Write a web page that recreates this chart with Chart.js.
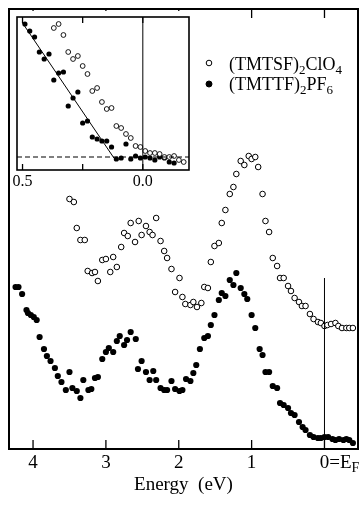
<!DOCTYPE html>
<html>
<head>
<meta charset="utf-8">
<script src="https://cdn.jsdelivr.net/npm/chart.js@4.4.1/dist/chart.umd.min.js"></script>
<style>
  body { margin: 0; background: #fff; }
  #wrap { position: relative; width: 363px; height: 508px; }
  #main, #inset { position: absolute; left: 0; top: 0; }
</style>
</head>
<body>
<div id="wrap">
  <canvas id="main" width="363" height="508"></canvas>
  <canvas id="inset" width="200" height="195"></canvas>
</div>
<script>
// main spectra, energy below E_F (eV) and intensity (arb. units)
const tmtsfEnergy = [3.50, 3.44, 3.40, 3.35, 3.29, 3.25, 3.19, 3.15, 3.11, 3.05, 3.00, 2.94, 2.90, 2.85, 2.79, 2.75, 2.70, 2.66, 2.60, 2.55, 2.51, 2.45, 2.40, 2.36, 2.31, 2.25, 2.20, 2.16, 2.10, 2.05, 1.99, 1.95, 1.91, 1.84, 1.80, 1.75, 1.69, 1.65, 1.60, 1.56, 1.51, 1.45, 1.41, 1.36, 1.30, 1.25, 1.21, 1.15, 1.10, 1.04, 1.00, 0.95, 0.91, 0.85, 0.81, 0.76, 0.71, 0.65, 0.61, 0.56, 0.50, 0.46, 0.41, 0.35, 0.31, 0.26, 0.20, 0.15, 0.09, 0.05, 0.00, -0.04, -0.09, -0.15, -0.19, -0.24, -0.30, -0.34, -0.39];
const tmtsfIntensity = [250, 247, 221, 209, 209, 178, 176, 177, 168, 189, 190, 177, 192, 182, 202, 216, 213, 226, 207, 228, 214, 223, 217, 214, 231, 208, 198, 191, 180, 157, 171, 152, 145, 144, 147, 142, 146, 162, 161, 187, 203, 206, 226, 239, 255, 262, 275, 288, 284, 293, 290, 292, 282, 255, 228, 217, 191, 183, 171, 171, 163, 158, 151, 147, 143, 143, 135, 130, 127, 126, 123, 124, 125, 126, 123, 121, 121, 121, 121];

const tmttfEnergy = [4.24, 4.20, 4.15, 4.09, 4.07, 4.03, 3.99, 3.95, 3.91, 3.85, 3.81, 3.76, 3.70, 3.66, 3.61, 3.55, 3.50, 3.46, 3.40, 3.35, 3.31, 3.24, 3.20, 3.15, 3.11, 3.05, 3.00, 2.96, 2.90, 2.85, 2.81, 2.75, 2.71, 2.66, 2.59, 2.56, 2.51, 2.45, 2.40, 2.35, 2.31, 2.25, 2.20, 2.16, 2.10, 2.05, 1.99, 1.95, 1.90, 1.84, 1.80, 1.76, 1.71, 1.65, 1.60, 1.56, 1.51, 1.45, 1.41, 1.36, 1.30, 1.25, 1.21, 1.15, 1.10, 1.06, 1.00, 0.95, 0.89, 0.85, 0.81, 0.76, 0.71, 0.65, 0.61, 0.56, 0.50, 0.46, 0.41, 0.35, 0.30, 0.26, 0.20, 0.15, 0.09, 0.05, 0.00, -0.05, -0.11, -0.15, -0.20, -0.26, -0.30, -0.34, -0.39];
const tmttfIntensity = [162, 162, 155, 139, 136, 134, 132, 129, 112, 100, 93, 88, 81, 73, 67, 59, 77, 61, 58, 51, 69, 59, 60, 71, 72, 90, 97, 101, 97, 108, 113, 104, 109, 117, 110, 80, 88, 77, 69, 78, 69, 61, 59, 59, 68, 60, 58, 59, 70, 68, 76, 84, 100, 111, 113, 124, 134, 149, 156, 153, 169, 164, 176, 161, 155, 150, 134, 121, 100, 94, 77, 77, 63, 61, 46, 44, 41, 36, 34, 27, 22, 19, 14, 12, 11, 11, 12, 12, 10, 9, 10, 9, 10, 9, 6];

// inset: close-up near E_F
const insetTmtsfEnergy = [0.37, 0.35, 0.33, 0.31, 0.29, 0.27, 0.25, 0.23, 0.21, 0.19, 0.17, 0.15, 0.13, 0.11, 0.09, 0.07, 0.05, 0.03, 0.01, -0.01, -0.03, -0.05, -0.07, -0.09, -0.11, -0.13, -0.15, -0.17];
const insetTmtsfIntensity = [142, 146, 135, 118, 111, 114, 104, 96, 79, 82, 68, 61, 62, 44, 42, 36, 32, 24, 23, 19, 17, 17, 16, 13, 13, 14, 10, 8];
const insetTmttfEnergy = [0.49, 0.47, 0.45, 0.43, 0.41, 0.39, 0.37, 0.35, 0.33, 0.31, 0.29, 0.27, 0.25, 0.23, 0.21, 0.19, 0.17, 0.15, 0.13, 0.11, 0.09, 0.07, 0.05, 0.03, 0.01, -0.01, -0.03, -0.05, -0.07, -0.09, -0.11, -0.13];
const insetTmttfIntensity = [146, 139, 133, 118, 111, 116, 90, 97, 98, 64, 72, 78, 47, 49, 33, 31, 29, 29, 23, 11, 12, 26, 11, 14, 12, 13, 12, 10, 13, 12, 8, 7];
const fitEnergy = [0.50, 0.12];
const fitIntensity = [147, 12];
const baselineIntensity = 13;

const mainTicks = [4, 3, 2, 1, 0];
const insetTicks = [0.5, 0.25, 0];
const insetTickLabels = ["0.5", "", "0.0"];
const fermiLineTop = 171;

const tmtsfLabel = [["(TMTSF)", false], ["2", true], ["ClO", false], ["4", true]];
const tmttfLabel = [["(TMTTF)", false], ["2", true], ["PF", false], ["6", true]];

const serif = '"Liberation Serif", "Times New Roman", serif';

function toPoints(xs, ys) {
    return xs.map((x, i) => ({ x: x, y: ys[i] }));
}

// text with subscripts, left aligned from x
function drawRich(ctx, x, y, parts, size) {
    ctx.textBaseline = "alphabetic";
    ctx.textAlign = "left";
    parts.forEach(([text, sub]) => {
        ctx.font = (sub ? Math.round(size * 0.72) : size) + "px " + serif;
        ctx.fillText(text, x, sub ? y + 4 : y);
        x += ctx.measureText(text).width;
    });
}

function drawMarker(ctx, x, y, filled) {
    ctx.beginPath();
    ctx.arc(x, y, filled ? 3 : 2.8, 0, Math.PI * 2);
    ctx.fillStyle = filled ? "#000" : "#fff";
    ctx.fill();
    ctx.lineWidth = 1;
    ctx.strokeStyle = "#000";
    ctx.stroke();
}

function drawFrameAndTicks(chart, tickValues, len, frameWidth) {
    const { ctx, chartArea } = chart;
    const xs = chart.scales.x;
    ctx.save();
    ctx.strokeStyle = "#000";
    ctx.lineWidth = 1.3;
    tickValues.forEach(v => {
        const px = xs.getPixelForValue(v);
        ctx.beginPath();
        ctx.moveTo(px, chartArea.bottom);
        ctx.lineTo(px, chartArea.bottom - len);
        ctx.moveTo(px, chartArea.top);
        ctx.lineTo(px, chartArea.top + len);
        ctx.stroke();
    });
    ctx.lineWidth = frameWidth;
    ctx.strokeRect(chartArea.left, chartArea.top, chartArea.right - chartArea.left, chartArea.bottom - chartArea.top);
    ctx.restore();
}

const mainDecor = {
    id: "mainDecor",
    afterDraw(chart) {
        const ctx = chart.ctx;
        const xs = chart.scales.x;
        drawFrameAndTicks(chart, mainTicks, 9, 2);

        // finish the "0=E_F" tick label
        ctx.save();
        ctx.fillStyle = "#000";
        ctx.font = "19px " + serif;
        const zeroX = xs.getPixelForValue(0) + ctx.measureText("0").width / 2;
        const y = xs.top + 3 + 19 * 1.2 / 2;
        ctx.textBaseline = "middle";
        ctx.textAlign = "left";
        ctx.fillText("=E", zeroX, y);
        const w = ctx.measureText("=E").width;
        ctx.font = "14px " + serif;
        ctx.fillText("F", zeroX + w, y + 5);

        // legend
        drawMarker(ctx, 209, 63, false);
        drawMarker(ctx, 209, 84, true);
        ctx.fillStyle = "#000";
        drawRich(ctx, 229, 70, tmtsfLabel, 18);
        drawRich(ctx, 229, 90, tmttfLabel, 18);
        ctx.restore();
    }
};

const insetDecor = {
    id: "insetDecor",
    beforeDraw(chart) {
        const { ctx, chartArea } = chart;
        ctx.save();
        ctx.fillStyle = "#fff";
        ctx.fillRect(chartArea.left - 6, chartArea.top - 6, chartArea.right - chartArea.left + 12, chartArea.bottom - chartArea.top + 8);
        ctx.restore();
    },
    afterDraw(chart) {
        drawFrameAndTicks(chart, insetTicks, 6, 1.6);
    }
};

new Chart("main", {
    type: "scatter",
    data: {
        datasets: [
            {
                data: [{ x: 0, y: 0 }, { x: 0, y: fermiLineTop }],
                showLine: true,
                borderColor: "#000",
                borderWidth: 1,
                pointRadius: 0
            },
            {
                label: "(TMTSF)2ClO4",
                data: toPoints(tmtsfEnergy, tmtsfIntensity),
                pointStyle: "circle",
                pointRadius: 2.8,
                backgroundColor: "#fff",
                borderColor: "#000",
                borderWidth: 1
            },
            {
                label: "(TMTTF)2PF6",
                data: toPoints(tmttfEnergy, tmttfIntensity),
                pointStyle: "circle",
                pointRadius: 3.1,
                backgroundColor: "#000",
                borderColor: "#000",
                borderWidth: 0
            }
        ]
    },
    options: {
        responsive: false,
        animation: false,
        events: [],
        layout: { padding: { left: 9, top: 9, right: 1, bottom: 0 } },
        plugins: { legend: { display: false }, tooltip: { enabled: false } },
        scales: {
            x: {
                type: "linear",
                reverse: true,
                min: -0.46,
                max: 4.33,
                afterBuildTicks: s => { s.ticks = mainTicks.map(v => ({ value: v })); },
                afterFit: s => { s.height = 59; },
                grid: { display: false, drawTicks: false },
                border: { display: false },
                ticks: {
                    autoSkip: false,
                    maxRotation: 0,
                    padding: 3,
                    color: "#000",
                    font: { family: serif, size: 19 },
                    callback: v => String(v)
                },
                title: {
                    display: true,
                    text: "Energy  (eV)",
                    color: "#000",
                    font: { family: serif, size: 19 },
                    padding: { top: 0, bottom: 12 }
                }
            },
            y: { display: false, min: 0, max: 440 }
        }
    },
    plugins: [mainDecor]
});

new Chart("inset", {
    type: "scatter",
    data: {
        datasets: [
            {
                data: [{ x: 0, y: 0 }, { x: 0, y: 153 }],
                showLine: true,
                borderColor: "#000",
                borderWidth: 1,
                pointRadius: 0
            },
            {
                data: [{ x: 0.523, y: baselineIntensity }, { x: -0.192, y: baselineIntensity }],
                showLine: true,
                borderColor: "#000",
                borderWidth: 1.2,
                borderDash: [5, 3],
                pointRadius: 0
            },
            {
                data: toPoints(fitEnergy, fitIntensity),
                showLine: true,
                borderColor: "#000",
                borderWidth: 1,
                pointRadius: 0
            },
            {
                data: toPoints(insetTmtsfEnergy, insetTmtsfIntensity),
                pointRadius: 2.4,
                backgroundColor: "#fff",
                borderColor: "#000",
                borderWidth: 0.9
            },
            {
                data: toPoints(insetTmttfEnergy, insetTmttfIntensity),
                pointRadius: 2.6,
                backgroundColor: "#000",
                borderColor: "#000",
                borderWidth: 0
            }
        ]
    },
    options: {
        responsive: false,
        animation: false,
        events: [],
        layout: { padding: { left: 17, top: 17, right: 11, bottom: 0 } },
        plugins: { legend: { display: false }, tooltip: { enabled: false } },
        scales: {
            x: {
                type: "linear",
                reverse: true,
                min: -0.192,
                max: 0.523,
                afterBuildTicks: s => { s.ticks = insetTicks.map(v => ({ value: v })); },
                afterFit: s => { s.height = 25; },
                grid: { display: false, drawTicks: false },
                border: { display: false },
                ticks: {
                    autoSkip: false,
                    maxRotation: 0,
                    padding: 2,
                    color: "#000",
                    font: { family: serif, size: 16 },
                    callback: (v, i) => insetTickLabels[i]
                }
            },
            y: { display: false, min: 0, max: 153 }
        }
    },
    plugins: [insetDecor]
});
</script>
</body>
</html>
